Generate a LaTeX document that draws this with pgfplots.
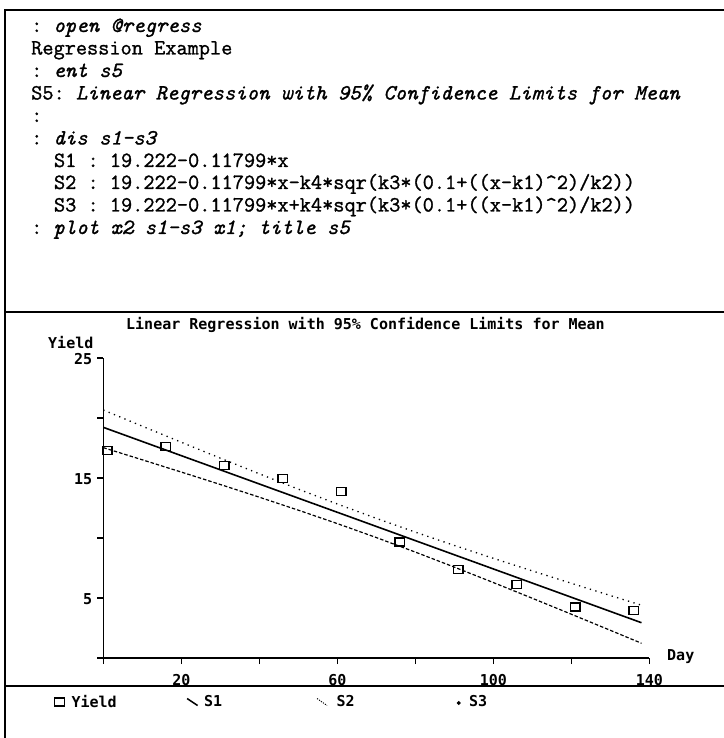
\documentclass[border=0pt]{standalone}
\usepackage{fontspec}
\usepackage{pgfplots}
\pgfplotsset{compat=1.18}
\setmonofont{Latin Modern Mono}[FakeBold=1.2]
\newfontfamily\chartfont{DejaVu Sans Mono}
\newcommand\cf{\chartfont\bfseries\fontsize{15bp}{18bp}\selectfont}
\newcommand\tf{\ttfamily\fontsize{21.7bp}{24bp}\selectfont}

\pgfplotstableread{
x y
1 17.30
16 17.64
31 16.02
46 14.96
61 13.90
76 9.67
91 7.38
106 6.10
121 4.25
136 3.97
}\yielddata

\pgfplotstableread{
x s1 s2 s3
0 19.222 17.529 20.665
10 18.042 16.516 19.318
20 16.862 15.494 17.980
30 15.682 14.459 16.655
40 14.502 13.403 15.351
50 13.322 12.320 14.074
60 12.143 11.201 12.835
70 10.963 10.038 11.638
80 9.783 8.827 10.489
90 8.603 7.575 9.381
100 7.423 6.289 8.307
110 6.243 4.978 7.258
120 5.063 3.649 6.227
130 3.883 2.308 5.208
138 2.939 1.228 4.400
}\bands

\begin{document}
\begin{tikzpicture}
\path[use as bounding box] (0bp,0bp) rectangle (724bp,738bp);
% frame
\draw[line width=2bp] (724bp,728bp) -- (5bp,728bp) -- (5bp,0bp);
\draw[line width=2bp] (5bp,426bp) -- (724bp,426bp);
\draw[line width=2bp] (5bp,52bp) -- (724bp,52bp);
% session text
\node[anchor=base west, inner sep=0pt] at (31bp,706bp) {\tf : \itshape open @regress};
\node[anchor=base west, inner sep=0pt] at (31bp,683.5bp) {\tf Regression Example};
\node[anchor=base west, inner sep=0pt] at (31bp,661bp) {\tf : \itshape ent s5};
\node[anchor=base west, inner sep=0pt] at (31bp,638.5bp) {\tf S5: \itshape Linear Regression with 95\% Confidence Limits for Mean};
\node[anchor=base west, inner sep=0pt] at (31bp,616bp) {\tf :};
\node[anchor=base west, inner sep=0pt] at (31bp,593.5bp) {\tf : \itshape dis s1-s3};
\node[anchor=base west, inner sep=0pt] at (53.8bp,571bp) {\tf S1 : 19.222-0.11799*x};
\node[anchor=base west, inner sep=0pt] at (53.8bp,549bp) {\tf S2 : 19.222-0.11799*x-k4*sqr(k3*(0.1+((x-k1)\textasciicircum2)/k2))};
\node[anchor=base west, inner sep=0pt] at (53.8bp,526.5bp) {\tf S3 : 19.222-0.11799*x+k4*sqr(k3*(0.1+((x-k1)\textasciicircum2)/k2))};
\node[anchor=base west, inner sep=0pt] at (31bp,504bp) {\tf : \itshape plot x2 s1-s3 x1; title s5};

\begin{axis}[
  at={(103.3bp,80bp)}, anchor=south west,
  scale only axis, width=546bp, height=300bp,
  xmin=0, xmax=140, ymin=0, ymax=25,
  axis lines=left, axis line style={-, line width=1.6bp},
  xtick={0,20,...,140}, xticklabels={,20,,60,,100,,140},
  ytick={0,5,...,25}, yticklabels={,5,,15,,25},
  tick align=outside, major tick length=6bp,
  tick style={line width=1.4bp, black},
  ticklabel style={font=\cf},
  xticklabel style={anchor=base, inner sep=0pt, yshift=-21bp},
  yticklabel style={anchor=east, inner sep=0pt, xshift=-5bp, yshift=-1.5bp},
  title={Linear Regression with 95\% Confidence Limits for Mean},
  title style={font=\cf, at={(axis description cs:0.4802,1)}, anchor=base, yshift=22.5bp, inner sep=0pt},
  xlabel={Day}, ylabel={Yield},
  every axis x label/.style={at={(axis description cs:1,0)}, anchor=base west, xshift=17.7bp, yshift=-2bp, inner sep=0pt, font=\cf},
  every axis y label/.style={at={(axis description cs:0,1)}, anchor=base west, xshift=-55.3bp, yshift=9.5bp, inner sep=0pt, font=\cf},
  legend columns=4,
  legend cell align=left,
  legend style={at={(axis description cs:-0.0947,-0.1467)}, anchor=west, draw=none, fill=none,
    inner sep=0pt, outer sep=0pt, font=\cf, column sep=0pt,
    nodes={text width=112.5bp, inner sep=0pt, align=left}},
]
\addplot[only marks, mark=square, mark size=4bp, mark options={xscale=1.2, line width=1.3bp, black},
  legend image code/.code={\path[draw=none, fill=none] (0bp,-6bp) rectangle (20bp,6bp);
    \draw[solid, line width=1.3bp] (3.2bp,-4bp) rectangle (12.6bp,4bp);}]
  table[x=x, y=y] {\yielddata};
\addlegendentry{Yield}
\addplot[black, line width=1.6bp,
  legend image code/.code={\path[draw=none, fill=none] (0bp,-6bp) rectangle (20bp,6bp);
    \draw[solid, line width=1.5bp] (3bp,3.5bp) -- (13.5bp,-3.5bp);}]
  table[x=x, y=s1] {\bands};
\addlegendentry{S1}
\addplot[black, line width=1.2bp, dash pattern=on 3.5bp off 2bp,
  legend image code/.code={\path[draw=none, fill=none] (0bp,-6bp) rectangle (20bp,6bp);
    \draw[line width=0.9bp, dash pattern=on 1.2bp off 1.2bp] (0.4bp,3.5bp) -- (10.4bp,-3.5bp);}]
  table[x=x, y=s2] {\bands};
\addlegendentry{S2}
\addplot[black, line width=1.3bp, dash pattern=on 1.3bp off 4.4bp,
  legend image code/.code={\path[draw=none, fill=none] (0bp,-6bp) rectangle (20bp,6bp);
    \fill[solid] (9.5bp,-1bp) circle (1.2bp);}]
  table[x=x, y=s3] {\bands};
\addlegendentry{S3}
\end{axis}
\end{tikzpicture}
\end{document}
